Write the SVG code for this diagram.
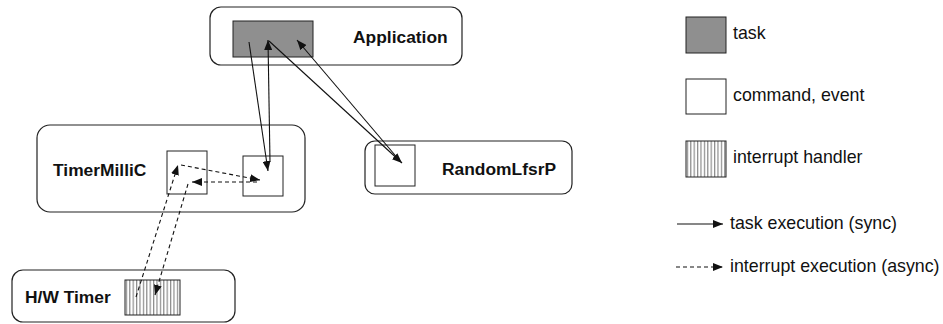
<svg xmlns="http://www.w3.org/2000/svg" width="943" height="324" viewBox="0 0 943 324">
<style>
.box{fill:#fff;stroke:#222;stroke-width:1.2}
.sq{fill:#fff;stroke:#222;stroke-width:1}
.task{fill:#8f8f8f;stroke:#222;stroke-width:1}
.hatch{fill:url(#stripes);stroke:#222;stroke-width:1}
.lbl{font-family:"Liberation Sans",Arial,sans-serif;font-size:17.4px;font-weight:bold;fill:#111}
.leg{font-family:"Liberation Sans",Arial,sans-serif;font-size:17.8px;fill:#111}
.sync{stroke:#111;stroke-width:1.1;fill:none;marker-end:url(#ah)}
.async{stroke:#111;stroke-width:1.1;fill:none;stroke-dasharray:4 3;marker-end:url(#ah)}
</style>
<defs>
<marker id="ah" markerUnits="userSpaceOnUse" markerWidth="11" markerHeight="8" refX="10" refY="4" orient="auto">
<path d="M0,0 L10,4 L0,8 Z" fill="#111"/>
</marker>
<pattern id="stripes" patternUnits="userSpaceOnUse" width="3.4" height="10">
<rect width="3.4" height="10" fill="#fff"/>
<rect x="0" width="1.2" height="10" fill="#8a8a8a"/>
</pattern>
</defs>
<g id="application">
<rect class="box" x="210" y="7" width="252" height="58" rx="11"/>
<rect class="task" x="233" y="21" width="80" height="36"/>
<text class="lbl" x="353" y="43">Application</text>
</g>
<g id="timermillic">
<rect class="box" x="37" y="125" width="268" height="87" rx="13"/>
<rect class="sq" x="167" y="151" width="40" height="43"/>
<rect class="sq" x="243" y="156" width="40" height="40"/>
<text class="lbl" x="53" y="176">TimerMilliC</text>
</g>
<g id="randomlfsrp">
<rect class="box" x="365" y="141" width="207" height="53" rx="10"/>
<rect class="sq" x="375" y="145" width="40" height="41"/>
<text class="lbl" x="442" y="175">RandomLfsrP</text>
</g>
<g id="hwtimer">
<rect class="box" x="12" y="270" width="223" height="52" rx="11"/>
<rect class="hatch" x="125" y="280" width="55" height="35"/>
<text class="lbl" x="25" y="303">H/W Timer</text>
</g>
<g id="connectors">
<line class="sync" x1="249" y1="42" x2="268" y2="171"/>
<line class="sync" x1="270" y1="162" x2="268" y2="40"/>
<line class="sync" x1="269" y1="41" x2="402" y2="163"/>
<line class="sync" x1="400" y1="161" x2="297" y2="40"/>
<line class="async" x1="136" y1="297" x2="178" y2="165"/>
<line class="async" x1="181" y1="165" x2="260" y2="180"/>
<line class="async" x1="257" y1="182" x2="192" y2="182"/>
<line class="async" x1="188" y1="184" x2="155" y2="295"/>
</g>
<g id="legend">
<rect class="task" x="686" y="17" width="40" height="36"/>
<text class="leg" x="733" y="39">task</text>
<rect class="sq" x="686" y="79" width="40" height="35"/>
<text class="leg" x="733" y="101">command, event</text>
<rect class="hatch" x="686" y="141" width="40" height="36"/>
<text class="leg" x="733" y="163">interrupt handler</text>
<line class="sync" x1="677" y1="224" x2="723" y2="224"/>
<text class="leg" x="730" y="229">task execution (sync)</text>
<line class="async" x1="676" y1="267" x2="723" y2="267"/>
<text class="leg" x="730" y="272">interrupt execution (async)</text>
</g>
</svg>
